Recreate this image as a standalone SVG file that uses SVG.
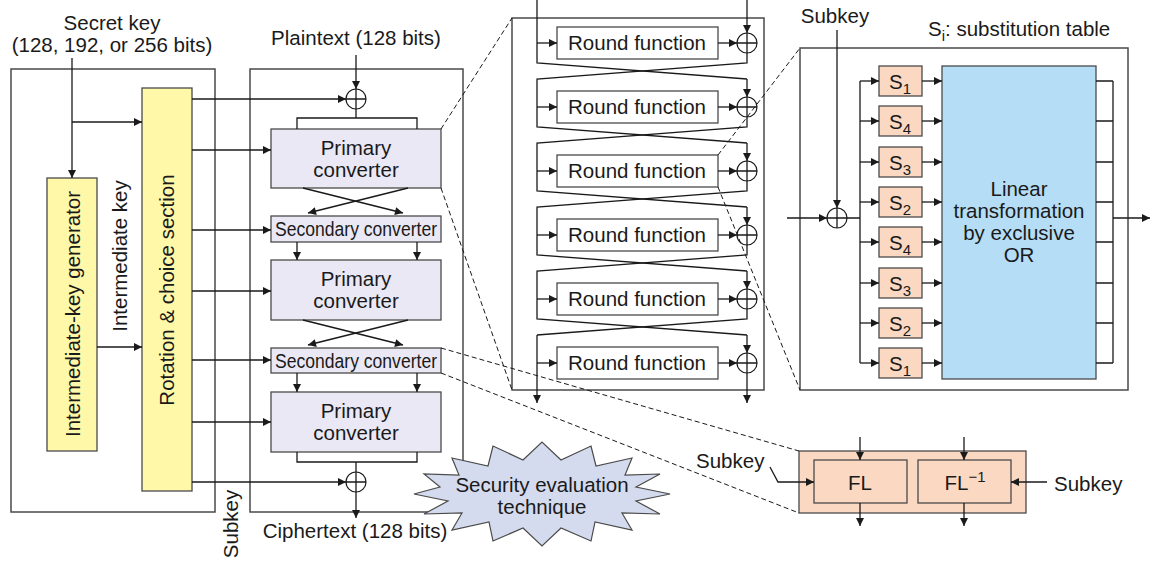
<svg xmlns="http://www.w3.org/2000/svg" width="1151" height="561" viewBox="0 0 1151 561">
<defs>
<marker id="ah" viewBox="0 0 10 10" refX="10" refY="5" markerWidth="9" markerHeight="8" markerUnits="userSpaceOnUse" orient="auto"><path d="M0,0 L10,5 L0,10 z" fill="#1a1a1a"/></marker>
<style>
text{font-family:"Liberation Sans",Arial,Helvetica,sans-serif;font-size:20.5px;fill:#1a1a1a}
.c{text-anchor:middle}
.ln{fill:none;stroke:#1a1a1a;stroke-width:1.3}
.ar{fill:none;stroke:#1a1a1a;stroke-width:1.3;marker-end:url(#ah)}
.dash{fill:none;stroke:#1a1a1a;stroke-width:1;stroke-dasharray:5,3}
.frame{fill:none;stroke:#4a4a4a;stroke-width:1.5}
.yel{fill:#fff8a8;stroke:#4a4a4a;stroke-width:1.3}
.lav{fill:#eae8f5;stroke:#4a4a4a;stroke-width:1.3}
.wht{fill:#fff;stroke:#4a4a4a;stroke-width:1.3}
.sbox{fill:#fbd8c2;stroke:#4a4a4a;stroke-width:1.3}
.lin{fill:#b5def6;stroke:#4a4a4a;stroke-width:1.3}
.xor{fill:#fff;stroke:#1a1a1a;stroke-width:1.2}
.sub{font-size:15px}
</style>
</defs>
<rect width="1151" height="561" fill="#fff"/>

<g id="frames">
<rect class="frame" x="11" y="69" width="204" height="443"/>
<rect class="frame" x="250" y="69" width="213" height="443"/>
<rect class="frame" x="512" y="18" width="252" height="372"/>
<rect class="frame" x="800" y="48" width="328" height="342"/>
</g>

<g id="secret-key">
<text class="c" x="112" y="30">Secret key</text>
<text class="c" x="112" y="52">(128, 192, or 256 bits)</text>
</g>
<g id="intermediate-key-generator">
<rect class="yel" x="47" y="178" width="50" height="273"/>
<text class="c" transform="translate(80,314) rotate(-90)">Intermediate-key generator</text>
</g>
<g id="intermediate-key-label">
<text class="c" transform="translate(127,256) rotate(-90)">Intermediate key</text>
</g>
<g id="rotation-choice">
<rect class="yel" x="142" y="88" width="50" height="403"/>
<text class="c" transform="translate(174,290) rotate(-90)">Rotation &amp; choice section</text>
</g>
<g id="subkey-label-left">
<text class="c" transform="translate(238,524) rotate(-90)">Subkey</text>
</g>

<g id="plaintext"><text class="c" x="356" y="45">Plaintext (128 bits)</text></g>
<g id="xor-top">
<circle class="xor" cx="356" cy="99" r="10"/>
<path class="ln" d="M346,99 H366 M356,89 V109"/>
</g>
<g id="primary-1">
<rect class="lav" x="271" y="129" width="170" height="59"/>
<text class="c" x="356" y="155">Primary</text>
<text class="c" x="356" y="177">converter</text>
</g>
<g id="secondary-1">
<rect class="lav" x="271" y="216" width="170" height="26"/>
<text class="c" x="356" y="236" textLength="162" lengthAdjust="spacingAndGlyphs">Secondary converter</text>
</g>
<g id="primary-2">
<rect class="lav" x="271" y="260" width="170" height="60"/>
<text class="c" x="356" y="286">Primary</text>
<text class="c" x="356" y="308">converter</text>
</g>
<g id="secondary-2">
<rect class="lav" x="271" y="348" width="170" height="25"/>
<text class="c" x="356" y="368" textLength="162" lengthAdjust="spacingAndGlyphs">Secondary converter</text>
</g>
<g id="primary-3">
<rect class="lav" x="271" y="392" width="170" height="60"/>
<text class="c" x="356" y="418">Primary</text>
<text class="c" x="356" y="440">converter</text>
</g>
<g id="xor-bottom">
<circle class="xor" cx="356" cy="482" r="10"/>
<path class="ln" d="M346,482 H366 M356,472 V492"/>
</g>
<g id="ciphertext"><text class="c" x="355" y="538">Ciphertext (128 bits)</text></g>

<g id="round-1"><rect class="wht" x="557" y="27" width="161" height="32"/><text class="c" x="637" y="50">Round function</text><circle class="xor" cx="747" cy="43" r="10"/><path class="ln" d="M737,43 H757 M747,33 V53"/></g>
<g id="round-2"><rect class="wht" x="557" y="91" width="161" height="32"/><text class="c" x="637" y="114">Round function</text><circle class="xor" cx="747" cy="107" r="10"/><path class="ln" d="M737,107 H757 M747,97 V117"/></g>
<g id="round-3"><rect class="wht" x="557" y="155" width="161" height="32"/><text class="c" x="637" y="178">Round function</text><circle class="xor" cx="747" cy="171" r="10"/><path class="ln" d="M737,171 H757 M747,161 V181"/></g>
<g id="round-4"><rect class="wht" x="557" y="219" width="161" height="32"/><text class="c" x="637" y="242">Round function</text><circle class="xor" cx="747" cy="235" r="10"/><path class="ln" d="M737,235 H757 M747,225 V245"/></g>
<g id="round-5"><rect class="wht" x="557" y="283" width="161" height="32"/><text class="c" x="637" y="306">Round function</text><circle class="xor" cx="747" cy="299" r="10"/><path class="ln" d="M737,299 H757 M747,289 V309"/></g>
<g id="round-6"><rect class="wht" x="557" y="347" width="161" height="32"/><text class="c" x="637" y="370">Round function</text><circle class="xor" cx="747" cy="363" r="10"/><path class="ln" d="M737,363 H757 M747,353 V373"/></g>

<g id="subkey-top"><text class="c" x="835" y="23">Subkey</text></g>
<g id="si-label"><text x="928" y="36">S<tspan class="sub" dy="5">i</tspan><tspan dy="-5">: substitution table</tspan></text></g>
<g id="xor-f">
<circle class="xor" cx="837" cy="218" r="10"/>
<path class="ln" d="M827,218 H847 M837,208 V228"/>
</g>
<g id="sboxes">
<rect class="sbox" x="879" y="66" width="43" height="30"/><text class="c" x="900" y="89">S<tspan class="sub" dy="5">1</tspan></text>
<rect class="sbox" x="879" y="106" width="43" height="30"/><text class="c" x="900" y="129">S<tspan class="sub" dy="5">4</tspan></text>
<rect class="sbox" x="879" y="147" width="43" height="30"/><text class="c" x="900" y="170">S<tspan class="sub" dy="5">3</tspan></text>
<rect class="sbox" x="879" y="187" width="43" height="30"/><text class="c" x="900" y="210">S<tspan class="sub" dy="5">2</tspan></text>
<rect class="sbox" x="879" y="227" width="43" height="30"/><text class="c" x="900" y="250">S<tspan class="sub" dy="5">4</tspan></text>
<rect class="sbox" x="879" y="268" width="43" height="30"/><text class="c" x="900" y="291">S<tspan class="sub" dy="5">3</tspan></text>
<rect class="sbox" x="879" y="308" width="43" height="30"/><text class="c" x="900" y="331">S<tspan class="sub" dy="5">2</tspan></text>
<rect class="sbox" x="879" y="348" width="43" height="30"/><text class="c" x="900" y="371">S<tspan class="sub" dy="5">1</tspan></text>
</g>
<g id="linear-transformation">
<rect class="lin" x="942" y="66" width="154" height="313"/>
<text class="c" x="1019" y="196">Linear</text>
<text class="c" x="1019" y="218">transformation</text>
<text class="c" x="1019" y="240">by exclusive</text>
<text class="c" x="1019" y="262">OR</text>
</g>

<g id="fl-block">
<rect class="sbox" x="799" y="451" width="227" height="62"/>
<rect class="sbox" x="814" y="460" width="93" height="43"/>
<rect class="sbox" x="918" y="460" width="93" height="43"/>
<text class="c" x="860" y="490">FL</text>
<text class="c" x="965" y="490">FL<tspan class="sub" dy="-8">−1</tspan></text>
</g>
<g id="fl-subkeys">
<text x="696" y="468">Subkey</text>
<text x="1054" y="491">Subkey</text>
</g>

<g id="connectors">
<path class="ar" d="M72,58 V178"/>
<path class="ar" d="M72,122 H142"/>
<path class="ar" d="M97,347 H142"/>
<path class="ar" d="M192,99 H346"/>
<path class="ar" d="M192,150 H271"/>
<path class="ar" d="M192,230 H271"/>
<path class="ar" d="M192,291 H271"/>
<path class="ar" d="M192,360 H271"/>
<path class="ar" d="M192,422 H271"/>
<path class="ar" d="M192,482 H346"/>
<path class="ar" d="M356,55 V89"/>
<path class="ln" d="M356,109 V118 M297,129 V118 H417 V129"/>
<path class="ar" d="M303,188 L403,213"/>
<path class="ar" d="M408,188 L308,213"/>
<path class="ar" d="M297,242 V260"/>
<path class="ar" d="M417,242 V260"/>
<path class="ar" d="M303,320 L403,345"/>
<path class="ar" d="M408,320 L308,345"/>
<path class="ar" d="M297,373 V392"/>
<path class="ar" d="M417,373 V392"/>
<path class="ln" d="M297,452 V462 H417 V452 M356,462 V472"/>
<path class="ar" d="M356,492 V518"/>

<path class="ln" d="M537,0 V63 L747,79"/>
<path class="ar" d="M747,0 V33"/>
<path class="ln" d="M747,53 V63 L537,79 V127 L747,143"/>
<path class="ar" d="M747,79 V97"/>
<path class="ln" d="M747,117 V127 L537,143 V191 L747,207"/>
<path class="ar" d="M747,143 V161"/>
<path class="ln" d="M747,181 V191 L537,207 V255 L747,271"/>
<path class="ar" d="M747,207 V225"/>
<path class="ln" d="M747,245 V255 L537,271 V319 L747,335"/>
<path class="ar" d="M747,271 V289"/>
<path class="ln" d="M747,309 V319 L537,335"/>
<path class="ar" d="M747,335 V353"/>
<path class="ar" d="M537,335 V403"/>
<path class="ar" d="M747,373 V403"/>
<path class="ar" d="M537,43 H557"/><path class="ar" d="M718,43 H737"/>
<path class="ar" d="M537,107 H557"/><path class="ar" d="M718,107 H737"/>
<path class="ar" d="M537,171 H557"/><path class="ar" d="M718,171 H737"/>
<path class="ar" d="M537,235 H557"/><path class="ar" d="M718,235 H737"/>
<path class="ar" d="M537,299 H557"/><path class="ar" d="M718,299 H737"/>
<path class="ar" d="M537,363 H557"/><path class="ar" d="M718,363 H737"/>

<path class="ar" d="M837,30 V208"/>
<path class="ar" d="M787,218 H827"/>
<path class="ln" d="M847,218 H860 M860,81 V363"/>
<path class="ar" d="M860,81 H879"/><path class="ar" d="M922,81 H942"/>
<path class="ar" d="M860,121 H879"/><path class="ar" d="M922,121 H942"/>
<path class="ar" d="M860,162 H879"/><path class="ar" d="M922,162 H942"/>
<path class="ar" d="M860,202 H879"/><path class="ar" d="M922,202 H942"/>
<path class="ar" d="M860,242 H879"/><path class="ar" d="M922,242 H942"/>
<path class="ar" d="M860,283 H879"/><path class="ar" d="M922,283 H942"/>
<path class="ar" d="M860,323 H879"/><path class="ar" d="M922,323 H942"/>
<path class="ar" d="M860,363 H879"/><path class="ar" d="M922,363 H942"/>
<path class="ln" d="M1096,81 H1113 M1096,121 H1113 M1096,162 H1113 M1096,202 H1113 M1096,242 H1113 M1096,283 H1113 M1096,323 H1113 M1096,363 H1113 M1113,81 V363"/>
<path class="ar" d="M1113,218 H1150"/>

<path class="ar" d="M860,437 V460"/>
<path class="ar" d="M964,437 V460"/>
<path class="ar" d="M860,503 V526"/>
<path class="ar" d="M964,503 V526"/>
<path class="ar" d="M770,467 L778,482 H814"/>
<path class="ar" d="M1047,482 H1011"/>

<path class="dash" d="M441,129 L512,18"/>
<path class="dash" d="M441,188 L512,390"/>
<path class="dash" d="M718,155 L800,48"/>
<path class="dash" d="M718,187 L800,390"/>
<path class="dash" d="M441,348 L799,451"/>
<path class="dash" d="M441,373 L799,513"/>
</g>

<g id="security-evaluation">
<polygon fill="#d5dbee" stroke="#4a4a4a" stroke-width="1.2" points="670,494 636,501 660,514 622,513 632,530 595,522 591,541 561,528 542,546 523,528 493,541 489,522 452,530 462,513 424,514 448,501 414,494 440,487 424,474 459,475 452,458 488,466 493,446 523,460 542,442 561,460 591,446 596,466 632,458 625,475 660,474 636,487"/>
<text class="c" x="542" y="492">Security evaluation</text>
<text class="c" x="542" y="514">technique</text>
</g>
</svg>
